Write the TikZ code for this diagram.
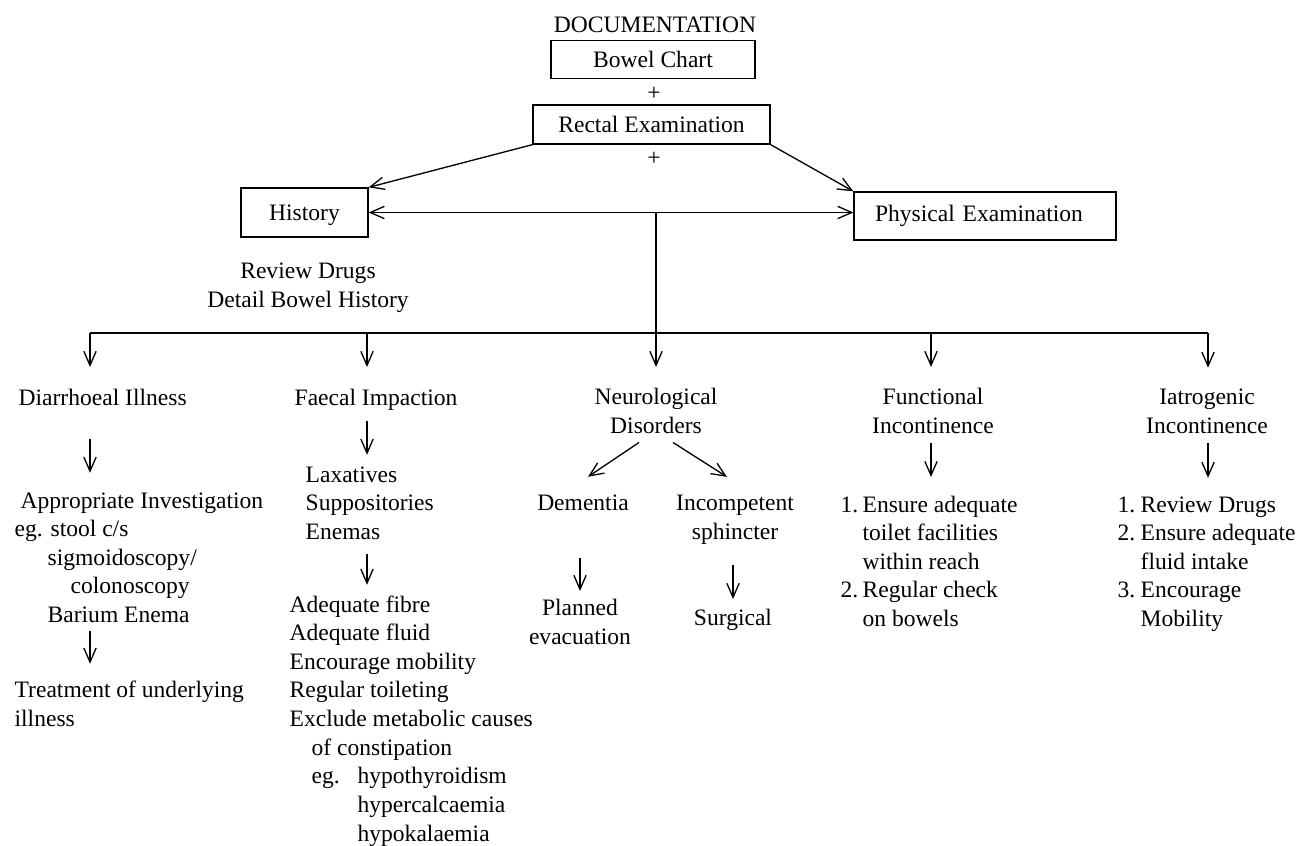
\documentclass[tikz,border=0pt]{standalone}
\usepackage{fontspec}
\setmainfont{Liberation Serif}
\usetikzlibrary{arrows.meta,calc}
\tikzset{
  barb/.tip={Straight Barb[length=8pt,width=7pt]},
  box/.style={draw,inner sep=0pt},
  txt/.style={inner sep=0pt,align=left,anchor=base west},
  ctr/.style={inner sep=0pt,align=center,anchor=base},
  arr/.style={-barb},
  head/.style={-barb,shorten >=0.42cm}
}

\begin{document}
\begin{tikzpicture}[x=0.02cm,y=-0.02cm,line width=0.75pt,every node/.style={font=\fontsize{13.4}{16.3}\selectfont}]
    \useasboundingbox (0,0) rectangle (1300,845);
    \node[ctr] (doc) at (655,32) {DOCUMENTATION};
    \node[box,minimum width=4.08cm,minimum height=0.75cm] (bowel) at (653,59.5) {Bowel Chart};
    \node (plusa) at (654,94) {+};
    \node[box,minimum width=4.74cm,minimum height=0.78cm] (rectal) at (651.5,124.5) {Rectal Examination};
    \node (plusb) at (654,159) {+};
    \node[box,minimum width=2.54cm,minimum height=0.98cm,text depth=0pt] (hist) at (304.5,212.5) {History};
    \node[box,minimum width=5.24cm,minimum height=0.96cm,text width=4.4cm,inner xsep=0.42cm,align=left] (phys) at (985,216) {Physical Examination};
    \node[ctr] (review) at (308,307.6) {Review Drugs\\Detail Bowel History};

    \draw[arr] (rectal.south west) -- (hist.north east);
    \draw[arr] (rectal.south east) -- (phys.north west);
    \draw[barb-barb] (hist.east) -- (hist.east -| phys.west);

    \coordinate (trunk) at (656,212);
    \coordinate (bar1) at (90,333);
    \coordinate (bar2) at (367,333);
    \coordinate (bar3) at (656,333);
    \coordinate (bar4) at (931,333);
    \coordinate (bar5) at (1208,333);
    \draw (bar1) -- (bar5);

    \node[txt] (diar) at (18,405) {Diarrhoeal Illness};
    \node[txt] (faec) at (294,405) {Faecal Impaction};
    \node[ctr] (neur) at (656,433.6) {Neurological\\Disorders};
    \node[ctr] (func) at (933,433.6) {Functional\\Incontinence};
    \node[ctr] (iatr) at (1207,433.6) {Iatrogenic\\Incontinence};

    \draw[head] (trunk) -- (neur.north);
    \draw[head] (bar1) -- (diar.north -| bar1);
    \draw[head] (bar2) -- (faec.north -| bar2);
    \draw[head] (bar4) -- (func.north -| bar4);
    \draw[head] (bar5) -- (iatr.north -| bar5);

    \node[txt] (inv) at (14,622.6) {\hspace*{3.4pt}Appropriate Investigation\\eg. stool c/s\\\hspace*{18.8pt}sigmoidoscopy/\\\hspace*{31.9pt}colonoscopy\\\hspace*{18.8pt}Barium Enema};
    \node[txt] (treat) at (14,726.6) {Treatment of underlying\\illness};
    \draw[arr,shorten <=0.66cm,shorten >=0.38cm] (diar.south -| bar1) -- (inv.north -| bar1);
    \draw[arr,shorten <=0.16cm,shorten >=0.34cm] (inv.south -| bar1) -- (treat.north -| bar1);

    \node[txt] (lax) at (305,539.3) {Laxatives\\Suppositories\\Enemas};
    \node[txt] (fibre) at (289,841.1) {Adequate fibre\\Adequate fluid\\Encourage mobility\\Regular toileting\\Exclude metabolic causes\\\hspace*{12.5pt}of constipation\\\hspace*{12.5pt}\makebox[26.2pt][l]{eg.}hypothyroidism\\\hspace*{38.7pt}hypercalcaemia\\\hspace*{38.7pt}hypokalaemia};
    \draw[arr,shorten <=0.2cm,shorten >=0.22cm] (faec.south -| bar2) -- (lax.north -| bar2);
    \draw[arr,shorten <=0.28cm,shorten >=0.2cm] (lax.south -| bar2) -- (fibre.north -| bar2);

    \node[ctr] (dem) at (583,510) {Dementia};
    \node[ctr] (inc) at (735,539.6) {Incompetent\\sphincter};
    \node[ctr] (plan) at (580,644.6) {Planned\\evacuation};
    \node[ctr] (surg) at (733,625) {Surgical};
    \draw[arr] ($(neur.south)+(-17,8)$) -- ($(dem.north)+(5,-17)$);
    \draw[arr] ($(neur.south)+(17,8)$) -- ($(inc.north)+(-8,-18)$);
    \draw[arr,shorten <=0.94cm,shorten >=0.16cm] (dem.south -| plan.north) -- (plan.north);
    \draw[arr,shorten <=0.4cm,shorten >=0.18cm] (inc.south -| surg.north) -- (surg.north);

    \node[txt] (funcl) at (840,626.6) {\makebox[12.5pt][l]{1.}Ensure adequate\\\hspace*{12.5pt}toilet facilities\\\hspace*{12.5pt}within reach\\\makebox[12.5pt][l]{2.}Regular check\\\hspace*{12.5pt}on bowels};
    \node[txt] (iatrl) at (1117,626.6) {\makebox[13.1pt][l]{1.}Review Drugs\\\makebox[13.1pt][l]{2.}Ensure adequate\\\hspace*{13.1pt}fluid intake\\\makebox[13.1pt][l]{3.}Encourage\\\hspace*{13.1pt}Mobility};
    \draw[arr,shorten <=0.18cm,shorten >=0.36cm] (func.south -| bar4) -- (funcl.north -| bar4);
    \draw[arr,shorten <=0.18cm,shorten >=0.36cm] (iatr.south -| bar5) -- (iatrl.north -| bar5);
  \end{tikzpicture}
\end{document}
